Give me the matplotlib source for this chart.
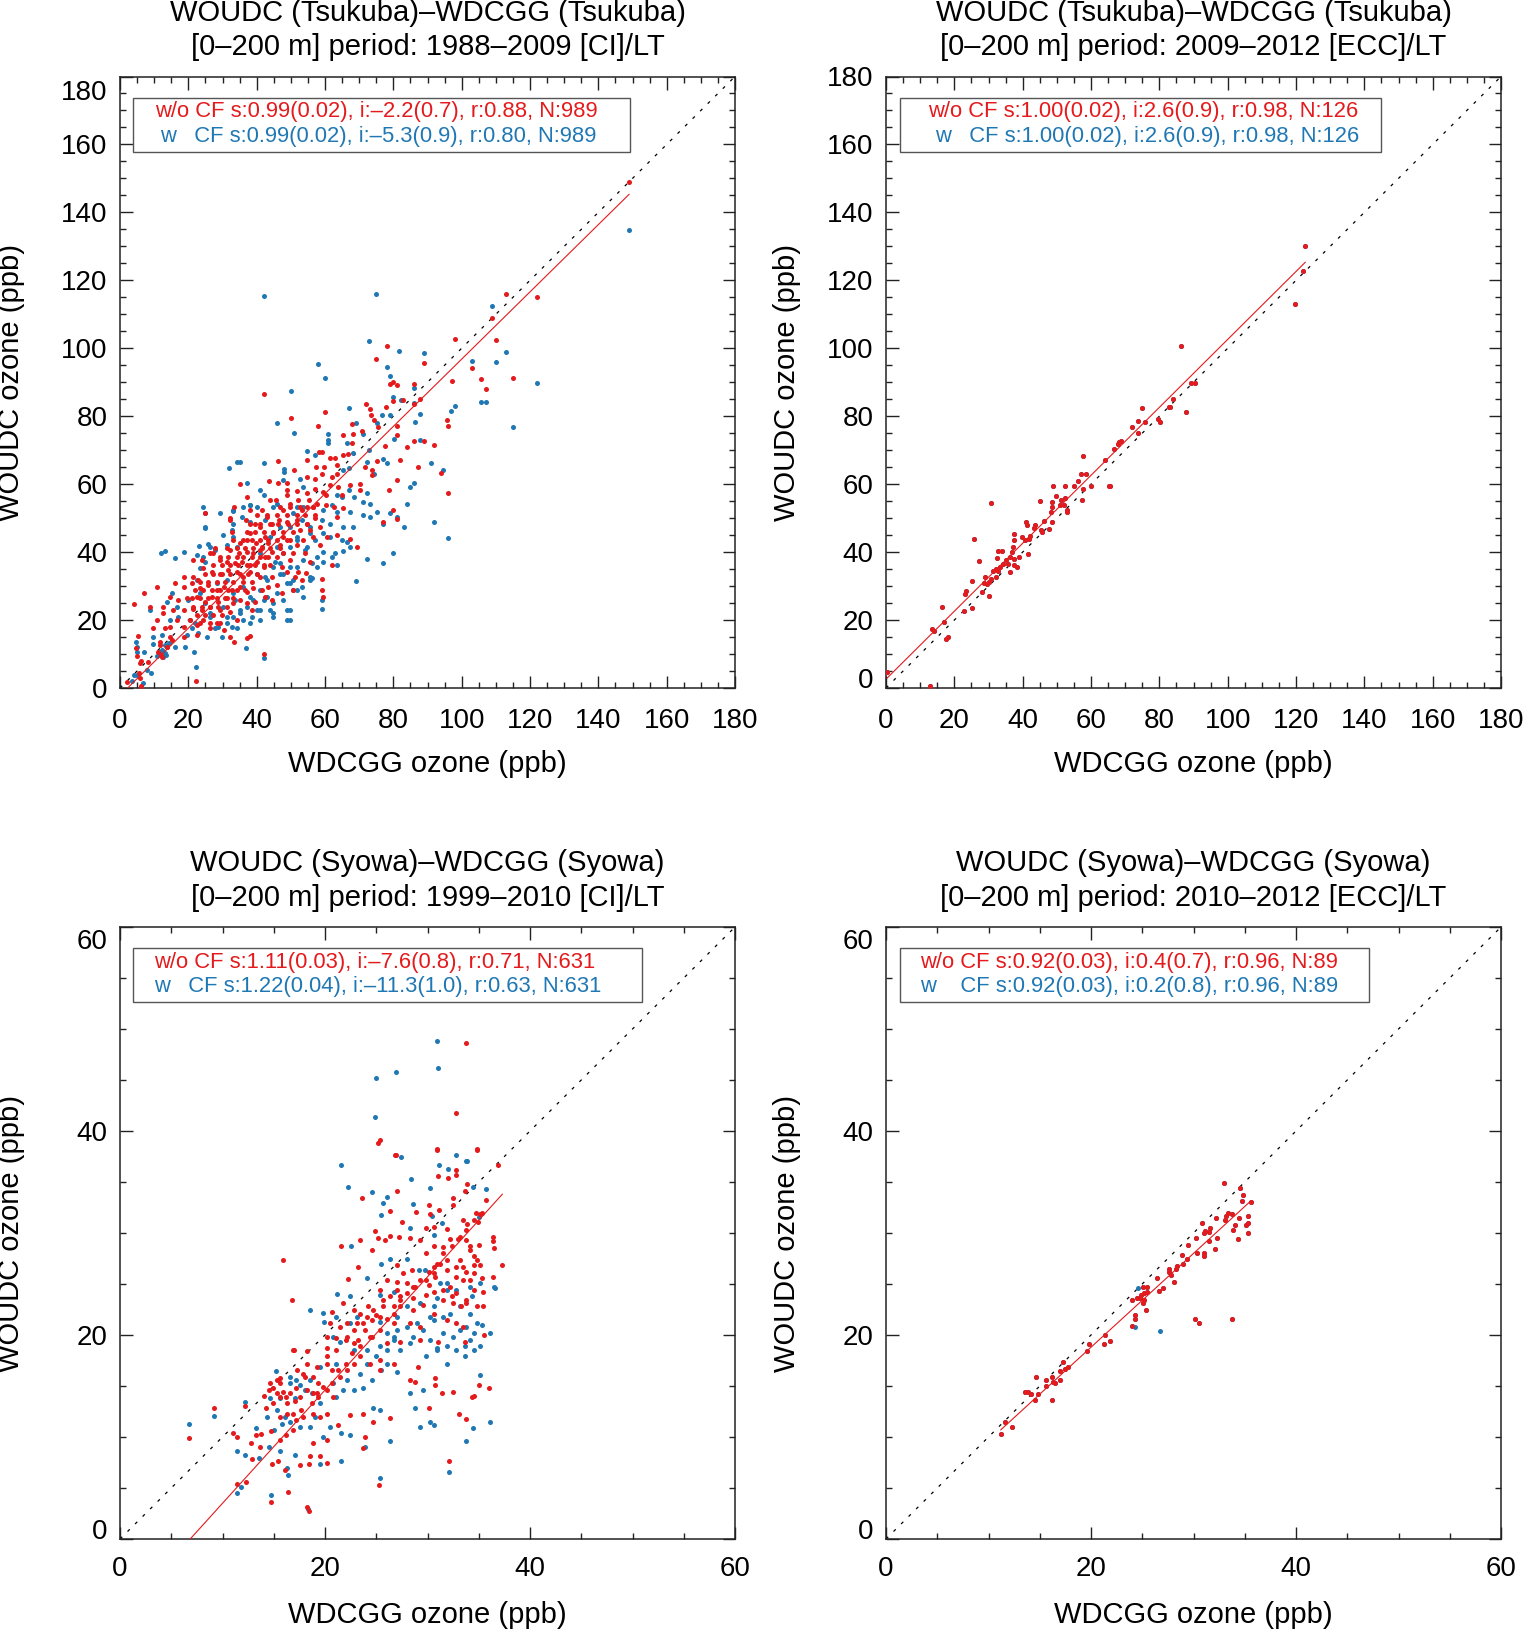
import matplotlib
matplotlib.use('Agg')
import matplotlib.pyplot as plt
from matplotlib.patches import Rectangle
from matplotlib.ticker import MultipleLocator
from matplotlib.transforms import ScaledTranslation
import numpy as np

plt.rcParams['font.family'] = ['Liberation Sans', 'DejaVu Sans']

RED = '#e41a1c'
BLUE = '#1f78b4'

# ---------------- Panel 1: Tsukuba 1988-2009 (CI) ----------------
p1_red = [
    (42.0,86.5),(78.9,89.4),(80.0,90.1),(81.2,89.1),(79.8,84.5),(82.7,84.7),(72.0,83.5),(73.2,82.0),(77.9,82.6),(60.0,81.3),(50.1,79.5),
    (73.4,80.3),(74.2,78.8),(67.8,77.6),(81.0,77.1),(75.4,76.9),(70.8,75.7),(68.3,74.9),(57.9,77.1),(65.2,74.6),(81.0,74.4),(77.6,71.2),(67.8,72.2),(83.9,70.8),
    (58.1,69.5),(59.2,69.5),(54.7,67.1),(65.2,68.5),(66.6,69.0),(61.5,67.6),(63.0,67.6),(63.4,65.6),(46.1,66.8),(57.3,65.1),(59.8,65.1),(63.4,63.1),(62.0,62.2),(75.1,66.8),(82.0,67.1),(73.7,64.3),(71.7,65.1),(73.7,62.7),(81.0,61.2),(51.0,64.3),(54.7,62.0),(57.1,61.5),(59.0,63.1),
    (35.0,60.0),(43.6,61.0),(46.1,60.2),(48.8,60.2),(48.8,58.2),(49.0,56.8),(51.7,58.1),(54.7,57.3),(57.2,58.7),(59.5,57.8),(61.5,59.7),(60.3,56.8),(63.9,59.2),(64.9,56.8),(67.3,59.7),(70.1,60.0),(70.3,58.2),(78.8,58.4),(37.1,56.3),(43.9,55.3),(45.7,55.3),(49.8,54.3),(52.2,55.3),(55.2,55.3),(56.6,53.3),(57.6,54.3),(60.3,53.8),(62.5,53.3),(65.4,52.9),(33.4,53.3),(38.1,52.4),(41.5,52.4),(47.8,52.4),(53.2,52.4),(80.0,52.4),
    (32.2,49.9),(36.9,49.4),(39.5,48.4),(42.9,50.4),(44.4,48.4),(46.4,49.4),(48.8,48.9),(51.7,49.4),(54.7,48.4),(57.1,49.9),(52.7,46.5),(55.6,46.5),(58.6,47.5),(63.4,50.4),(77.1,48.9),(81.0,49.6),(32.7,46.0),(38.1,45.5),(41.0,47.5),(42.5,44.5),(44.9,45.5),(47.8,44.5),(49.8,43.5),(53.7,43.5),(56.6,44.5),(60.5,44.5),(63.4,45.0),(67.3,44.0),(69.3,41.6),(35.1,42.6),(37.1,43.5),(39.8,42.6),(41.5,41.6),(43.4,42.6),(46.9,42.1),(51.7,42.1),(58.6,42.1),
    (27.8,41.1),(32.2,40.6),(34.7,39.6),(37.1,40.1),(39.0,39.6),(41.0,40.6),(42.5,38.6),(44.4,40.1),(45.9,38.6),(47.8,39.6),(49.8,37.7),(50.7,39.6),(54.2,39.6),(26.4,39.6),(21.5,37.7),(23.9,37.7),(29.3,37.7),(31.2,37.2),(33.7,36.7),(35.6,37.2),(38.1,36.2),(40.0,37.2),(42.0,35.7),(43.9,36.2),(47.3,35.7),(48.8,34.2),(52.2,34.2),(54.5,33.9),(38.1,34.2),(34.2,34.2),(31.7,34.7),(29.3,33.7),(26.8,34.2),(24.4,35.2),(21.5,32.7),(36.1,32.7),(41.0,32.7),(44.4,32.7),(51.2,32.7),(53.2,31.8),(18.6,32.7),(22.9,31.8),(59.0,32.1),(62.0,36.2),(55.6,37.2),
    (10.7,29.8),(16.1,30.8),(18.6,29.8),(21.0,30.8),(23.4,29.3),(25.9,30.3),(28.3,28.8),(30.3,29.8),(32.7,28.8),(35.1,29.8),(37.1,28.3),(39.0,29.3),(41.5,28.8),(43.4,29.8),(45.9,30.3),(47.3,27.9),(50.7,28.8),(59.0,28.8),(59.5,26.9),(14.7,26.9),(17.1,25.9),(19.5,26.4),(22.5,26.9),(24.9,25.4),(26.8,26.9),(28.8,25.4),(31.2,26.4),(33.2,24.9),(35.1,25.9),(37.1,24.9),(39.5,25.4),(42.5,26.9),(44.4,25.9),(12.7,23.9),(15.6,23.0),(18.6,23.0),(21.5,23.4),(23.9,23.0),(26.4,23.9),(29.3,23.0),(32.2,22.5),(8.8,23.9),(38.6,23.0),
    (10.7,20.0),(13.2,17.6),(14.7,18.1),(16.6,20.0),(18.6,18.1),(20.5,20.0),(22.5,18.5),(24.4,20.0),(26.4,17.6),(28.3,19.0),(30.3,17.1),(14.7,15.1),(18.6,15.1),(22.5,15.6),(32.2,15.1),(37.1,14.6),(38.1,15.3),(34.2,20.0),(12.7,22.0),(9.6,17.6),
    (149.0,149.0),(113.0,116.0),(122.0,115.0),(109.0,108.8),(98.0,102.8),(110.0,102.3),(78.0,100.7),(75.0,96.7),(103.0,94.3),(105.8,90.9),(115.0,91.3),(107.0,88.0),(97.2,90.4),(89.0,95.6),(86.0,89.6),(86.0,83.6),(87.8,85.2),(95.6,78.9),(95.9,77.0),(91.9,71.4),(89.0,72.7),(86.0,72.7),(87.2,65.2),(96.0,57.3),(93.9,63.2),
    (7.1,28.1),(4.1,24.6),(5.2,15.4),(22.1,2.2),(42.0,10.0),(33.5,13.6),(4.7,11.7),(4.9,9.4),(6.05,8.0),(5.85,7.3),(5.66,4.3),(5.85,3.0),(1.95,1.7),(8.3,7.8),(11.2,10.6),(11.7,12.7),(13.7,12.2),(12.1,9.7),(12.2,9.2),(6.1,0.7),(11.8,13.6),(13.9,12.2),(15.3,14.1),
    # dense core
    (46.8,53.3),(49.8,53.3),(52.7,53.3),(54.6,53.3),(56.6,53.3),
    (40.0,50.9),(42.9,50.9),(45.9,50.9),(48.8,50.9),(51.7,50.9),(54.2,50.9),(57.1,50.9),
    (38.1,48.4),(41.0,48.4),(43.9,48.4),(46.3,48.4),(49.3,48.4),(51.7,48.4),(54.6,48.4),
    (37.1,46.0),(39.5,46.0),(42.0,46.0),(44.9,46.0),(47.8,46.0),(50.7,46.0),
    (33.2,43.5),(36.1,43.5),(38.5,43.5),(41.0,43.5),(43.4,43.5),(45.9,43.5),(48.8,43.5),
    (31.2,41.1),(34.2,41.1),(36.6,41.1),(39.0,41.1),(41.5,41.1),(43.9,41.1),(46.8,41.1),
    (29.3,38.6),(31.7,38.6),(34.2,38.6),(36.1,38.6),(38.5,38.6),(41.0,38.6),(43.4,38.6),
    (27.3,36.2),(29.8,36.2),(32.2,36.2),(34.6,36.2),(37.1,36.2),(39.5,36.2),(42.0,36.2),
    (24.9,33.7),(27.3,33.7),(29.8,33.7),(32.2,33.7),(35.1,33.7),(37.6,33.7),(40.0,33.7),
    (23.4,31.3),(25.9,31.3),(28.3,31.3),(30.7,31.3),(33.2,31.3),(36.1,31.3),(38.5,31.3),
    (22.0,28.8),(24.4,28.8),(26.8,28.8),(29.3,28.8),(31.7,28.8),(34.2,28.8),(36.6,28.8),
    (21.0,26.4),(23.4,26.4),(25.9,26.4),(28.3,26.4),(30.7,26.4),(33.2,26.4),
    (21.5,23.9),(23.9,23.9),(26.4,23.9),(28.8,23.9),(31.2,23.9),
    (22.4,21.5),(24.9,21.5),(27.3,21.5),(29.8,21.5),
    (23.4,19.0),(26.4,19.0),(29.3,19.0),
    (24.9,51.4),(32.2,49.4),(27.3,39.6),
]
p1_blue = [
    (50.0,87.4),(80.0,85.7),(82.3,84.7),(67.1,82.5),(79.1,80.5),(45.9,77.9),(51.0,75.1),
    (75.1,78.1),(76.8,80.3),(69.0,78.1),(61.0,74.9),(61.0,73.1),(61.0,72.0),(80.1,73.2),(71.0,74.7),(66.4,72.2),
    (54.7,69.7),(57.1,68.5),(68.1,69.2),(73.0,70.0),(77.0,67.4),(78.1,66.3),(34.2,66.4),(35.1,66.4),(31.9,64.7),(42.0,66.3),(48.0,64.6),(48.0,63.6),(72.2,66.6),(74.2,63.0),(65.4,64.1),(67.1,64.9),(52.7,61.4),(84.9,59.2),
    (37.1,60.2),(41.0,58.2),(42.0,56.8),(47.8,61.2),(53.7,59.2),(63.4,56.8),(64.9,56.1),(67.1,58.2),(68.5,56.1),(72.2,57.3),(38.1,53.8),(40.0,53.3),(44.9,53.3),(45.9,54.3),(51.7,53.3),(59.5,52.4),(62.0,53.8),(63.4,51.9),(67.3,51.9),(71.0,54.8),(73.2,54.3),(79.1,51.4),(33.2,52.2),(24.9,51.4),(24.9,47.2),(83.9,54.3),
    (29.3,51.4),(33.2,48.4),(35.6,50.4),(38.1,48.9),(49.8,47.5),(53.2,49.4),(59.0,49.4),(61.5,48.4),(65.4,47.5),(68.1,47.5),(71.2,50.9),(73.2,50.4),(75.1,51.9),(77.1,48.4),(81.0,50.4),(55.6,45.5),(59.5,45.5),(61.5,44.5),(64.9,43.5),(66.4,43.0),(33.0,44.5),(31.2,42.1),(34.2,41.6),(51.7,44.5),(54.7,41.6),(59.5,39.9),(63.0,39.6),(65.4,40.4),(67.3,41.6),(80.0,39.6),(83.0,47.5),
    (23.0,41.9),(18.6,40.1),(16.1,38.4),(13.2,40.3),(12.0,39.6),(26.2,41.6),(24.4,38.6),(45.4,37.2),(46.8,36.7),(47.8,33.7),(49.8,35.7),(50.7,31.8),(53.7,37.7),(56.1,36.7),(56.1,32.3),(57.6,38.6),(59.5,37.2),(62.0,38.6),(63.4,36.2),(69.0,31.6),(72.2,38.0),(77.1,36.7),(42.5,32.7),(23.4,35.2),
    (15.1,27.9),(13.7,25.4),(16.6,23.9),(20.0,25.9),(23.4,27.9),(28.3,30.8),(31.2,31.8),(33.2,27.9),(35.1,23.0),(38.1,26.9),(40.0,23.0),(42.0,25.9),(43.9,23.0),(45.9,27.9),(47.8,25.9),(49.8,23.0),(51.7,28.8),(53.7,26.9),(55.6,31.8),(59.0,25.9),(59.0,23.2),(49.8,30.8),(26.4,22.0),(31.2,21.0),
    (9.8,15.1),(12.2,15.6),(14.7,20.0),(17.1,21.0),(19.5,15.6),(21.0,17.6),(22.9,16.1),(25.4,15.1),(27.8,17.6),(29.8,15.1),(32.7,18.1),(34.2,17.6),(36.1,20.0),(38.1,19.0),(41.0,20.0),(44.9,21.0),(48.8,20.0),(8.8,23.0),
    (149.1,134.9),(42.0,115.5),(75.0,116.0),(73.0,102.2),(57.9,95.3),(60.0,91.3),(81.8,99.1),(78.0,94.5),(79.0,91.8),(89.0,98.7),(103.1,96.2),(110.0,96.0),(113.0,98.8),(122.0,89.9),(115.0,76.7),(105.8,84.3),(107.0,84.3),(86.0,88.4),(86.0,84.0),(98.0,83.0),(97.0,81.4),(87.8,80.8),(86.2,78.4),(87.8,72.9),(94.5,64.2),(91.1,66.1),(86.0,60.2),(91.9,48.8),(96.0,44.1),(109.0,112.4),
    (5.1,12.2),(9.1,4.5),(4.1,3.7),(22.1,6.3),(42.0,8.9),(37.0,11.7),(4.7,13.6),(9.8,12.9),(4.9,10.7),(7.0,10.5),(11.7,10.7),(13.5,9.7),(13.2,12.7),(3.4,2.1),(4.9,3.8),(7.8,5.3),(10.7,9.4),(6.8,1.4),(12.2,11.2),(14.2,13.1),(12.5,9.2),(16.0,12.2),(13.2,10.4),(18.9,12.2),(21.7,10.7),
    # dense core
    (36.1,53.3),(38.1,53.8),(33.2,52.4),(24.9,47.4),(25.9,42.5),(24.9,37.2),(22.4,31.8),(27.8,40.6),(30.2,45.0),(32.7,46.5),
    (43.9,44.5),(45.9,41.6),(47.8,39.6),(49.8,41.6),(51.7,43.5),(54.2,40.6),(57.1,43.5),(44.9,35.7),(46.8,33.7),(48.8,30.8),
    (50.7,28.8),(42.9,31.8),(41.0,28.8),(42.9,26.9),(44.9,24.9),(39.0,25.9),(37.1,23.9),(35.1,22.0),(33.2,21.0),(31.2,19.0),
    (28.8,18.0),(38.5,21.0),(41.0,22.9),(44.9,22.0),(48.8,22.9),(49.8,20.0),(53.2,29.8),(55.6,32.7),(57.6,35.7),(51.7,35.7),
    (40.0,33.7),(36.1,29.8),(33.7,25.9),(30.2,23.9),(26.4,21.0),(22.0,19.0),(41.0,39.6),(53.7,53.3),(50.7,51.4),(55.6,47.4),
    (42.4,49.4),(46.8,47.4),(22.4,39.1),(24.9,24.9),(20.5,20.0),(24.4,53.3),
]
p1_fit = (0.99, -2.2)
p1_title = ['WOUDC (Tsukuba)\u2013WDCGG (Tsukuba)', '[0\u2013200 m] period: 1988\u20132009 [CI]/LT']
p1_stats = ['w/o CF s:0.99(0.02), i:\u20132.2(0.7), r:0.88, N:989',
            'w   CF s:0.99(0.02), i:\u20135.3(0.9), r:0.80, N:989']

# ---------------- Panel 2: Tsukuba 2009-2012 (ECC) ----------------
p2_red = [
    (122.7,130.2),(122.1,122.8),(119.8,113.0),(86.4,100.7),(89.3,89.9),(90.3,89.9),(87.7,81.1),(83.9,85.0),(83.2,82.8),(82.7,82.8),(79.6,79.2),(80.2,78.4),(75.9,78.3),(74.9,82.5),(73.9,78.7),(73.9,75.2),(72.0,76.7),(68.7,72.7),(68.2,72.3),(67.8,71.8),(66.6,70.4),(64.2,67.1),(65.3,59.5),(65.6,59.5),(59.9,59.5),(57.8,68.2),(57.1,63.0),(58.5,63.0),(56.3,61.0),(57.8,58.6),(57.5,55.4),(54.9,59.5),(52.5,59.5),(48.9,59.5),(49.9,56.4),(51.3,55.4),(52.5,55.8),(50.9,53.9),(52.1,53.9),(53.1,52.5),(53.1,51.7),(48.5,54.7),(48.5,53.2),(48.2,51.7),(48.5,48.8),(45.2,55.1),(47.8,46.9),(46.1,49.1),(45.4,46.5),(45.6,45.9),(43.6,48.1),(43.2,47.1),(40.9,48.8),(41.4,48.1),(39.9,44.4),(40.7,43.7),(41.8,44.0),(41.6,39.3),(37.5,45.2),(37.5,43.7),(37.1,41.5),(36.8,40.0),(36.4,38.6),(37.4,38.1),(35.7,36.4),(36.4,34.2),(37.5,36.1),(33.9,40.3),(32.8,40.3),(35.0,37.8),(34.2,36.4),(33.5,35.6),(32.5,38.3),(32.1,34.9),(31.4,34.4),(32.8,34.4),(32.1,32.7),(30.8,32.2),(30.0,31.2),(29.7,30.5),(29.1,32.7),(30.7,54.4),(28.8,30.8),(30.0,27.1),(28.2,28.3),(27.1,37.4),(25.7,43.8),(25.2,31.5),(25.1,23.6),(23.5,28.6),(23.1,27.6),(22.8,22.8),(17.1,19.5),(16.4,23.9),(14.0,16.9),(13.6,17.3),(18.0,15.1),(17.5,14.4),(12.8,0.7),(0.3,4.8),(38.8,38.6),(38.2,35.6),(42.2,44.7),
]
p2_blue = list(p2_red)   # identical after correction: hidden beneath the red points
p2_fit = (1.00, 2.6)
p2_title = ['WOUDC (Tsukuba)\u2013WDCGG (Tsukuba)', '[0\u2013200 m] period: 2009\u20132012 [ECC]/LT']
p2_stats = ['w/o CF s:1.00(0.02), i:2.6(0.9), r:0.98, N:126',
            'w   CF s:1.00(0.02), i:2.6(0.9), r:0.98, N:126']

# ---------------- Panel 3: Syowa 1999-2010 (CI) ----------------
p3_red = [
    (26.9,37.6),(30.9,38.1),(34.8,38.1),(31.0,35.6),(32.0,35.4),(32.8,36.2),(32.8,35.7),(36.9,36.7),(33.9,34.8),(27.0,34.1),(23.6,33.4),(33.7,34.1),
    (32.5,33.4),(32.5,32.75),(35.7,33.2),(30.1,32.75),(26.3,32.2),(28.9,32.1),(30.2,31.9),(31.1,32.3),(34.7,32.0),(35.3,32.0),(33.5,31.3),(33.9,30.9),(34.9,31.1),(27.5,31.05),(29.9,30.5),(31.9,30.4),(30.6,30.6),(24.9,30.2),(26.3,29.7),(27.2,29.6),(29.3,29.3),(28.3,29.5),(25.2,29.5),(25.9,29.3),(23.4,29.3),(32.2,29.4),(33.0,29.4),(33.8,29.3),(36.4,29.6),(36.4,29.25),(21.6,28.7),(24.55,28.3),(30.6,28.7),(31.5,28.6),(34.1,28.7),(35.0,28.8),(36.5,28.5),
    (15.9,27.4),(23.2,26.7),(22.2,25.5),(27.0,26.9),(27.6,26.1),(28.45,26.4),(29.9,28.0),(30.6,26.7),(31.2,27.0),(31.9,27.4),(33.2,27.4),(34.5,27.7),(34.8,27.4),(30.6,26.05),(31.9,26.4),(32.8,26.7),(33.75,26.2),(34.5,26.9),(37.3,26.9),(26.0,25.4),(27.0,25.2),(28.0,25.1),(28.8,24.7),(29.9,25.4),(30.7,25.7),(30.1,24.9),(31.5,24.4),(32.2,24.7),(33.5,25.4),(34.1,25.4),(35.3,25.6),(36.4,25.7),(34.5,24.4),(35.45,24.25),(26.3,23.8),(27.3,23.8),(28.6,23.6),(29.9,23.9),(30.6,24.25),(31.5,23.4),(32.8,24.1),(33.8,23.4),(25.4,24.4),
    (16.8,23.4),(20.65,22.3),(21.8,23.1),(22.8,22.5),(23.4,22.1),(24.2,22.8),(25.0,22.0),(25.7,22.8),(26.7,22.1),(27.3,22.8),(28.6,22.5),(29.6,22.9),(30.6,22.1),(32.5,23.1),(33.3,22.8),(33.8,23.1),(34.8,22.8),(35.45,22.8),(20.5,21.15),(21.5,20.8),(22.1,21.15),(22.8,20.5),(23.7,21.15),(24.55,21.5),(25.4,21.8),(26.7,21.15),(28.3,21.15),(29.3,20.8),(31.9,21.5),(32.8,21.15),(33.5,20.8),(20.2,19.8),(21.1,19.7),(22.0,19.5),(22.8,19.2),(23.4,18.9),(24.4,19.8),(26.0,19.2),(27.3,19.35),(29.3,19.5),(31.05,19.35),(33.65,19.35),(35.5,20.0),(20.2,18.7),(16.9,18.5),(18.2,18.4),
    (15.3,15.6),(15.6,15.8),(17.0,18.5),(17.3,16.6),(17.9,16.2),(18.2,17.2),(18.85,15.9),(19.35,15.3),(20.2,17.2),(20.65,16.6),(21.5,15.9),(22.1,16.6),(22.8,17.2),(23.4,17.9),(24.4,17.2),(25.4,17.55),(25.4,16.6),(26.7,17.2),(28.3,15.6),(28.8,15.4),(29.1,16.9),(30.7,15.75),(30.75,15.1),(32.5,14.45),(34.3,13.9),(34.5,14.0),(35.0,15.1),(36.0,14.8),(14.0,14.05),(14.5,14.6),(14.95,14.8),(15.3,14.3),(15.9,14.45),(16.2,13.95),(16.6,14.3),(17.2,14.8),(17.55,13.95),(18.2,14.6),(18.85,14.3),(19.35,13.95),(20.2,14.6),(20.8,13.95),(15.6,15.3),
    (14.2,12.8),(14.95,13.3),(15.6,12.0),(16.25,13.3),(16.9,12.3),(17.2,11.7),(17.9,12.0),(18.85,12.3),(19.5,12.0),(20.2,12.3),(21.3,11.2),(22.4,12.15),(23.7,12.3),(24.65,11.5),(26.3,11.9),(30.1,12.8),(31.4,14.3),(33.1,12.3),(33.75,11.8),(11.05,10.4),(11.4,10.0),(12.8,9.4),(13.3,10.2),(13.8,10.3),(14.7,10.6),(15.6,9.7),(16.2,10.2),(16.9,10.7),(18.85,9.4),(20.2,9.7),(23.9,10.0),(6.7,9.9),(9.2,12.8),(12.2,13.0),
    (13.65,9.0),(12.9,7.8),(14.8,7.4),(15.45,7.6),(16.1,6.8),(18.5,8.1),(19.5,8.1),(20.2,7.5),(18.4,7.4),(17.6,7.25),(23.7,8.9),(32.1,7.6),
    (33.8,48.6),(32.8,41.8),(25.2,38.8),(25.4,39.1),(26.8,37.6),(30.95,38.2),(34.8,38.2),(16.4,4.6),(14.7,3.6),(18.2,3.1),(18.4,2.7),(25.3,5.3),(11.4,5.4),(12.3,5.6),
    (14.6,15.3),(15.6,13.9),(16.25,12.3),(17.1,13.5),(17.7,12.6),(18.7,13.3),(19.2,14.3),(19.8,14.9),(20.65,15.3),(21.3,16.6),(22.0,17.2),(22.6,18.2),(23.25,19.5),(23.9,20.5),(24.55,19.8),(25.4,20.5),(26.0,21.6),(26.7,22.8),(27.3,23.4),(28.0,24.1),(28.6,24.7),(29.3,25.4),(30.1,26.2),(30.9,27.0),(31.5,28.0),(32.35,28.7),(33.2,29.6),(33.8,30.3),(34.5,31.3),(35.1,31.9),(34.15,28.3),(33.5,26.7),(32.8,25.7),(32.35,23.8),(34.5,26.05),(35.1,26.9),(27.0,24.4),(25.7,23.4),(24.7,22.5),(24.1,21.8),(23.1,21.15),(22.1,19.8),(21.1,18.5),(20.2,17.9),(19.2,16.9),(18.05,15.9),
]
p3_blue = [
    (27.4,37.5),(21.6,36.7),(31.1,36.7),(32.0,36.3),(32.8,37.6),(33.9,37.1),(28.4,35.3),(22.2,34.5),(24.6,34.0),(30.2,34.4),(35.7,34.3),(26.0,33.5),(34.4,34.5),
    (25.7,32.9),(28.55,32.85),(30.4,31.7),(28.3,30.5),(31.4,30.95),(25.5,31.8),(22.5,28.7),(30.6,29.8),(35.0,31.6),
    (25.5,27.0),(26.3,27.5),(28.0,27.5),(29.2,26.4),(29.75,26.4),(25.4,23.9),(24.1,25.6),(22.4,23.8),(21.2,24.0),(26.7,24.25),(31.2,25.1),(31.9,25.1),(32.8,24.4),(35.1,25.1),(36.5,24.7),(30.9,23.6),(34.3,23.8),
    (18.5,22.5),(19.8,22.2),(19.9,21.3),(21.1,21.8),(22.4,21.15),(23.1,21.8),(25.4,21.3),(26.0,20.2),(27.0,20.5),(28.0,20.8),(29.0,21.15),(30.2,21.8),(30.6,21.5),(31.5,21.8),(32.2,22.1),(33.2,20.5),(34.15,22.1),(34.8,21.15),(35.3,21.0),(36.1,20.2),(21.5,19.35),(24.1,18.5),(25.4,18.9),(26.7,19.5),(28.3,19.2),(30.2,19.5),(30.9,18.7),(31.9,18.9),(33.65,18.9),(34.15,19.5),(35.1,18.9),(36.6,24.6),
    (15.2,16.5),(17.2,15.6),(18.05,14.6),(18.5,15.6),(19.5,16.9),(20.8,15.3),(21.1,17.2),(22.1,15.6),(22.8,14.6),(23.7,14.8),(24.55,15.6),(25.5,16.6),(26.0,17.2),(27.0,16.4),(28.3,14.3),(29.6,14.6),(29.9,17.9),(30.9,18.5),(31.9,17.2),(32.8,18.5),(33.65,17.9),(34.5,18.5),(35.1,16.1),(17.1,13.8),(16.6,15.3),(15.6,13.8),(14.6,13.8),
    (9.2,12.1),(6.7,11.3),(12.2,13.4),(13.3,10.85),(14.3,12.0),(15.0,10.7),(15.8,11.3),(16.6,11.5),(17.55,11.0),(18.5,11.0),(19.0,12.0),(19.85,10.0),(20.5,11.0),(21.6,10.35),(22.4,10.2),(24.7,12.8),(25.4,12.6),(26.3,9.6),(28.8,12.8),(29.3,10.95),(30.2,11.5),(30.6,11.2),(33.8,9.6),(34.4,10.85),(36.1,11.5),(11.45,8.6),(12.2,8.2),
    (13.55,7.9),(16.3,7.0),(16.4,6.3),(17.1,8.2),(19.5,7.4),(21.6,7.6),(23.9,9.0),(25.4,5.95),(32.1,6.6),(14.5,9.05),(15.6,8.6),
    (30.95,48.8),(31.0,46.2),(25.0,45.2),(26.9,45.8),(24.9,41.4),(33.8,37.1),(14.7,4.3),(11.4,4.5),(11.8,5.1),(18.3,2.9),
    (16.6,15.9),(17.55,15.1),(16.1,12.0),(15.3,12.6),(18.7,14.3),(19.5,13.3),(21.1,13.95),(21.8,14.6),(23.4,16.2),(24.1,17.2),(25.0,17.9),(26.0,18.5),(27.3,18.5),(28.6,19.8),(29.6,20.5),(31.5,20.2),(32.5,19.8),(33.8,20.8),(34.5,20.2),(27.0,21.8),(28.0,22.8),(29.3,23.1),(30.6,22.8),(33.2,22.8),(34.15,24.7),(31.9,24.4),(26.7,19.8),(20.8,19.8),(22.8,18.5),
]
p3_fit = (1.11, -7.6)
p3_title = ['WOUDC (Syowa)\u2013WDCGG (Syowa)', '[0\u2013200 m] period: 1999\u20132010 [CI]/LT']
p3_stats = ['w/o CF s:1.11(0.03), i:\u20137.6(0.8), r:0.71, N:631',
            'w   CF s:1.22(0.04), i:\u201311.3(1.0), r:0.63, N:631']

# ---------------- Panel 4: Syowa 2010-2012 (ECC) ----------------
p4_red = [
    (33.0,34.9),(34.5,34.4),(34.8,33.7),(34.7,33.1),(35.6,33.0),(33.4,32.0),(33.2,31.7),(33.8,31.9),(33.1,31.3),(35.3,31.7),(35.3,31.0),(34.4,31.5),(34.0,30.8),(33.9,30.3),(35.1,30.8),(35.3,30.0),(34.3,29.4),(32.2,31.5),(30.8,31.0),(31.6,30.5),(31.1,30.2),(31.5,30.1),(31.0,30.0),(32.3,29.5),(31.5,29.2),(30.2,29.5),(29.5,28.8),(32.1,28.4),(30.3,28.0),(31.0,28.0),(31.0,27.7),(28.9,27.8),(29.4,27.5),(29.0,27.0),(28.4,26.8),(28.3,26.5),(27.6,26.5),(27.6,26.2),(27.8,25.9),(28.1,25.2),(26.4,25.6),(27.0,24.6),(26.6,24.3),(25.5,24.7),(25.1,24.7),(25.5,24.2),(25.2,24.1),(24.9,23.9),(24.5,23.6),(24.8,23.6),(24.0,23.4),(25.2,23.4),(25.1,23.1),(25.4,22.5),(24.3,22.0),(24.3,21.6),(24.0,20.9),(30.1,21.6),(30.5,21.2),(33.8,21.6),(21.4,20.0),(21.9,19.4),(21.3,19.1),(19.8,19.1),(19.6,18.4),(17.3,17.4),(17.8,16.9),(17.5,16.7),(17.0,16.5),(17.0,15.6),(16.2,15.9),(15.6,15.6),(16.5,15.3),(16.3,15.4),(14.6,15.9),(15.6,15.0),(14.8,14.2),(13.6,14.4),(13.9,14.4),(14.1,14.2),(14.5,13.6),(16.2,13.6),(11.65,11.5),(12.3,11.0),(11.2,10.3),
]
p4_blue_changed = [(24.6,24.6),(24.3,20.8),(26.7,20.4)]
p4_blue = list(p4_red) + p4_blue_changed
p4_fit = (0.92, 0.4)
p4_title = ['WOUDC (Syowa)\u2013WDCGG (Syowa)', '[0\u2013200 m] period: 2010\u20132012 [ECC]/LT']
p4_stats = ['w/o CF s:0.92(0.03), i:0.4(0.7), r:0.96, N:89',
            'w    CF s:0.92(0.03), i:0.2(0.8), r:0.96, N:89']

xlabel = 'WDCGG ozone (ppb)'
ylabel = 'WOUDC ozone (ppb)'

# ---------------- Layout ----------------
W, H = 1523, 1630
fig = plt.figure(figsize=(W / 100, H / 100), dpi=100)
fig.patch.set_facecolor('white')

panels = [
    dict(red=p1_red, blue=p1_blue, fit=p1_fit, title=p1_title, stats=p1_stats, lim=180,
         box=(120, 76.5, 735, 688), boxx=(0.021, 0.829), tx=(0.057, 0.065), ylab_x=-0.177,
         xpad=14.5, shift={180: -13}),
    dict(red=p2_red, blue=p2_blue, fit=p2_fit, title=p2_title, stats=p2_stats, lim=180,
         box=(886, 76.5, 1501, 688), boxx=(0.0228, 0.805), tx=(0.068, 0.080), ylab_x=-0.161,
         xpad=14.5, shift={0: 10}),
    dict(red=p3_red, blue=p3_blue, fit=p3_fit, title=p3_title, stats=p3_stats, lim=60,
         box=(120, 927, 735, 1539), boxx=(0.0217, 0.849), tx=(0.0553, 0.0553), ylab_x=-0.177,
         xpad=12, shift={60: -12, 0: 10}),
    dict(red=p4_red, blue=p4_blue, fit=p4_fit, title=p4_title, stats=p4_stats, lim=60,
         box=(886, 927, 1501, 1539), boxx=(0.0228, 0.786), tx=(0.056, 0.056), ylab_x=-0.161,
         xpad=12, shift={60: -12, 0: 10}),
]

SPINE = '#222222'
for p in panels:
    l, t, r, b = p['box']
    ax = fig.add_axes([l / W, 1 - b / H, (r - l) / W, (b - t) / H])
    lim = p['lim']
    ax.set_xlim(0, lim)
    ax.set_ylim(0, lim)
    major = np.arange(0, lim + 1, 20)
    ax.set_xticks(major)
    ax.set_yticks(major)
    ax.xaxis.set_minor_locator(MultipleLocator(5))
    ax.yaxis.set_minor_locator(MultipleLocator(5))
    for s in ax.spines.values():
        s.set_color(SPINE)
        s.set_linewidth(1.1)
    ax.tick_params(which='both', direction='in', top=True, right=True, color=SPINE, width=1.0)
    ax.tick_params(which='major', length=9, labelsize=20)
    ax.tick_params(which='minor', length=4.3)
    ax.tick_params(axis='x', which='major', pad=p['xpad'])
    ax.tick_params(axis='y', which='major', pad=9)

    # 1:1 reference line
    ax.plot([0, lim], [0, lim], color='black', lw=0.9, ls=(0, (2.5, 6)), zorder=2)

    bx = [q[0] for q in p['blue']]
    by = [q[1] for q in p['blue']]
    rx = [q[0] for q in p['red']]
    ry = [q[1] for q in p['red']]
    ax.scatter(bx, by, s=13, color=BLUE, linewidths=0, zorder=3)
    ax.scatter(rx, ry, s=13, color=RED, linewidths=0, zorder=4)

    slope, icpt = p['fit']
    xs = np.array([min(rx), max(rx)])
    ax.plot(xs, slope * xs + icpt, color=RED, lw=0.8, zorder=5)

    # statistics box
    x0, x1 = p['boxx']
    ax.add_patch(Rectangle((x0, 0.877), x1 - x0, 0.965 - 0.877, transform=ax.transAxes,
                           facecolor='white', edgecolor='#555555', lw=1.0, zorder=6))
    ax.text(p['tx'][0], 0.9425, p['stats'][0], color=RED, fontsize=15.8, ha='left', va='center',
            transform=ax.transAxes, zorder=7)
    ax.text(p['tx'][1], 0.9025, p['stats'][1], color=BLUE, fontsize=15.8, ha='left', va='center',
            transform=ax.transAxes, zorder=7)

    # titles and axis labels
    ax.text(0.5, 1 + 64 / 612, p['title'][0], ha='center', va='center', fontsize=21,
            transform=ax.transAxes)
    ax.text(0.5, 1 + 29.5 / 612, p['title'][1], ha='center', va='center', fontsize=21,
            transform=ax.transAxes)
    ax.text(0.5, -76 / 612, xlabel, ha='center', va='center', fontsize=21, transform=ax.transAxes)
    ax.text(p['ylab_x'], 0.5, ylabel, ha='center', va='center', rotation=90, fontsize=21,
            transform=ax.transAxes)

    # end tick-label offsets as in the original
    for tick, val in zip(ax.yaxis.get_major_ticks(), major):
        if int(val) in p['shift']:
            dy = p['shift'][int(val)] / 100.0
            tick.label1.set_transform(tick.label1.get_transform() +
                                      ScaledTranslation(0, dy, fig.dpi_scale_trans))

fig.savefig('out.png', dpi=100, facecolor='white')
